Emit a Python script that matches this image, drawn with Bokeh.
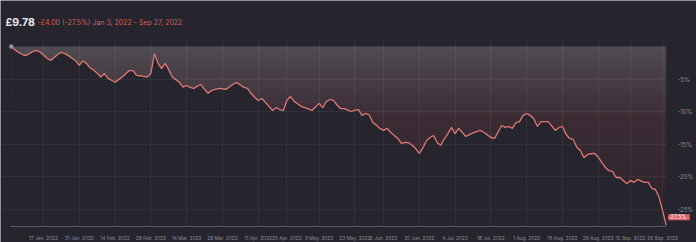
import datetime as dt
import numpy as np
from bokeh.plotting import figure
from bokeh.models import Range1d, FixedTicker, Label, ColumnDataSource
from bokeh.embed import file_html
from bokeh.resources import INLINE

# ---------------- data ----------------
start_date = dt.date(2022, 1, 3)
end_date = dt.date(2022, 9, 27)
market_holidays = ["2022-04-15", "2022-04-18", "2022-05-02", "2022-06-02",
                   "2022-06-03", "2022-08-29", "2022-09-19"]

# % change vs Jan 3 close, one value per session from Jan 4 to Sep 27
pct_change = [
    0.0, -0.5, -0.9, -1.2, -1.4, -1.1, -0.8, -0.6, -0.85, -1.3,
    -1.8, -2.15, -1.7, -1.2, -0.9, -1.1, -1.4, -1.8, -2.2, -2.9,
    -2.2, -2.6, -3.3, -3.6, -4.1, -4.7, -4.15, -4.9, -5.2, -5.5,
    -5.1, -4.7, -4.2, -3.7, -3.7, -4.45, -4.5, -4.6, -4.7, -4.15,
    -1.1, -2.6, -3.4, -2.6, -3.6, -4.7, -5.1, -5.5, -6.25, -6.0,
    -6.3, -6.45, -6.1, -5.85, -6.6, -7.2, -6.75, -6.6, -6.45, -6.5,
    -6.6, -6.2, -5.8, -5.55, -5.9, -6.3, -6.45, -7.2, -7.8, -8.3,
    -8.0, -8.6, -9.2, -9.85, -9.4, -9.7, -9.85, -8.3, -7.7, -8.4,
    -8.8, -9.2, -9.4, -9.6, -9.85, -9.3, -8.75, -9.4, -8.5, -8.15,
    -8.3, -9.0, -9.55, -9.55, -9.8, -10.0, -9.8, -9.7, -10.6, -10.3,
    -10.5, -11.7, -12.1, -12.6, -12.9, -12.6, -13.2, -13.7, -14.15, -14.9,
    -14.75, -14.8, -15.2, -15.7, -16.45, -15.6, -14.5, -14.0, -13.7, -14.8,
    -15.2, -14.2, -13.4, -12.45, -13.4, -12.6, -13.2, -13.85, -13.55, -13.3,
    -13.1, -12.9, -13.2, -13.6, -14.0, -14.15, -13.2, -12.15, -12.45, -12.3,
    -12.6, -11.7, -11.55, -10.6, -10.3, -10.6, -11.1, -12.3, -11.55, -11.55,
    -11.55, -12.2, -12.9, -12.5, -12.3, -13.5, -14.15, -14.3, -15.5, -16.0,
    -17.1, -16.6, -16.5, -16.45, -17.0, -17.85, -18.6, -19.1, -19.2, -20.15,
    -20.15, -20.6, -21.1, -20.6, -20.9, -20.45, -20.7, -20.9, -20.9, -21.85,
    -22.0, -23.2, -25.3, -27.5,
]

tick_dates = ["2022-01-17", "2022-01-31", "2022-02-14", "2022-02-28", "2022-03-14",
              "2022-03-28", "2022-04-11", "2022-04-25", "2022-05-09", "2022-05-23",
              "2022-06-06", "2022-06-20", "2022-07-04", "2022-07-18", "2022-08-01",
              "2022-08-15", "2022-08-29", "2022-09-12", "2022-09-26"]
tick_labels = ["17 Jan. 2022", "31 Jan. 2022", "14 Feb. 2022", "28 Feb. 2022",
               "14 Mar. 2022", "28 Mar. 2022", "11 Apr. 2022", "25 Apr. 2022",
               "9 May. 2022", "23 May. 2022", "6 Jun. 2022", "20 Jun. 2022",
               "4 Jul. 2022", "18 Jul. 2022", "1 Aug. 2022", "15 Aug. 2022",
               "29 Aug. 2022", "12 Sep. 2022", "26 Sep. 2022"]
y_ticks = [-25, -20, -15, -10, -5]
y_tick_labels = ["-25%", "-20%", "-15%", "-10%", "-5%"]

header_price = "£9.78"
header_change = "-£4.00 (-27.5%) Jan 3, 2022 - Sep 27, 2022"
end_label = " -27.5% "

# ---------------- trading-session axis ----------------
hol = {dt.date.fromisoformat(h) for h in market_holidays}
sessions = []
d = start_date
while d <= end_date:
    if d.weekday() < 5 and d not in hol:
        sessions.append(d)
    d += dt.timedelta(days=1)

def session_index(iso):
    target = dt.date.fromisoformat(iso)
    for i, s in enumerate(sessions):
        if s >= target:
            return i
    return len(sessions) - 1

xs = list(range(1, 1 + len(pct_change)))
tick_pos = [session_index(t) for t in tick_dates]

BG = "#26252d"
LINE = "#de7878"
TXT = "#8e8d95"
FONT = "Inter"

# frame = whole canvas; both axes pinned inside it
px_per_session = 3.579
px_per_pct = 6.5
x_start = -7.2 / px_per_session
x_end = x_start + 696 / px_per_session
y_top = 46 / px_per_pct
y_min = y_top - 242 / px_per_pct
axis_y = -27.69                      # level of the date-axis line
plot_right = xs[-1] + 0.07          # right edge of the chart body
grid_top = 0.92                     # top of the chart body (just above 0%)

p = figure(width=696, height=242, output_backend="svg", toolbar_location=None,
           x_range=Range1d(x_start, x_end), y_range=Range1d(y_min, y_top),
           y_axis_location="right", min_border_left=0, min_border_right=0,
           min_border_top=0, min_border_bottom=0)
p.background_fill_color = BG
p.border_fill_color = BG
p.outline_line_color = None

# gradient fill between 0% and the line
M = 120
top_c = np.array([80, 76, 82], dtype=float)
mid_c = np.array([60, 45, 53], dtype=float)
bot_c = np.array([44, 33, 40], dtype=float)
t = np.linspace(0, 1, M)  # 0 = bottom row, 1 = top row
cols = np.zeros((M, 3))
for i, tv in enumerate(t):
    if tv > 0.6:
        f = (tv - 0.6) / 0.4
        cols[i] = mid_c + (top_c - mid_c) * f
    else:
        f = tv / 0.6
        cols[i] = bot_c + (mid_c - bot_c) * f
img = np.zeros((M, 2), dtype=np.uint32)
view = img.view(dtype=np.uint8).reshape((M, 2, 4))
for i in range(M):
    view[i, :, 0] = int(cols[i, 0])
    view[i, :, 1] = int(cols[i, 1])
    view[i, :, 2] = int(cols[i, 2])
    view[i, :, 3] = 255
p.image_rgba(image=[img], x=xs[0], y=axis_y, dw=xs[-1] - xs[0], dh=-axis_y,
             level="image")

src = ColumnDataSource(dict(x=xs, y=pct_change, b=[axis_y] * len(xs)))
p.varea(x="x", y1="y", y2="b", source=src, fill_color=BG, level="image")
p.line(x="x", y="y", source=src, line_color=LINE, line_width=1.3)
p.scatter(x=[xs[0]], y=[pct_change[0]], size=3.5, color="#9a99a0")

# date axis, pinned at the bottom of the chart body
xa = p.xaxis[0]
xa.fixed_location = axis_y
xa.ticker = FixedTicker(ticks=tick_pos)
xa.major_label_overrides = {tp: lab for tp, lab in zip(tick_pos, tick_labels)}
xa.bounds = (xs[0] - 0.3, plot_right)
xa.axis_line_color = "#5a5961"
xa.major_tick_line_color = None
xa.minor_tick_line_color = None
xa.major_label_text_font = FONT
xa.major_label_text_font_size = "4.8px"
xa.major_label_text_color = TXT
xa.major_label_standoff = 3

# percent axis, pinned at the right edge of the chart body
ya = p.yaxis[0]
ya.fixed_location = plot_right
ya.ticker = FixedTicker(ticks=y_ticks)
ya.major_label_overrides = {v: lab for v, lab in zip(y_ticks, y_tick_labels)}
ya.axis_line_color = None
ya.major_tick_line_color = None
ya.minor_tick_line_color = None
ya.major_label_text_font = FONT
ya.major_label_text_font_size = "6px"
ya.major_label_text_color = TXT
ya.major_label_standoff = 5

p.xgrid.ticker = FixedTicker(ticks=tick_pos)
p.ygrid.ticker = FixedTicker(ticks=y_ticks)
p.grid.grid_line_color = "#ffffff"
p.grid.grid_line_alpha = 0.06
try:
    p.xgrid.cross_bounds = (axis_y, grid_top)
    p.ygrid.cross_bounds = (x_start, plot_right)
except Exception:
    pass

# header
p.add_layout(Label(x=-0.61, y=3.62, text=header_price,
                   text_font=FONT, text_font_size="10.5px", text_font_style="bold",
                   text_color="#ecebef", text_baseline="alphabetic"))
p.add_layout(Label(x=8.33, y=3.62, text=header_change,
                   text_font=FONT, text_font_size="7px",
                   text_color="#cf5f61", text_baseline="alphabetic"))

# end value tag
p.add_layout(Label(x=plot_right + 0.5, y=pct_change[-1], y_offset=8, text=end_label,
                   text_font=FONT, text_font_size="5.5px", text_color="#ffffff",
                   text_baseline="middle", background_fill_color="#e06262"))

open("out.html", "w").write(file_html(p, INLINE))
